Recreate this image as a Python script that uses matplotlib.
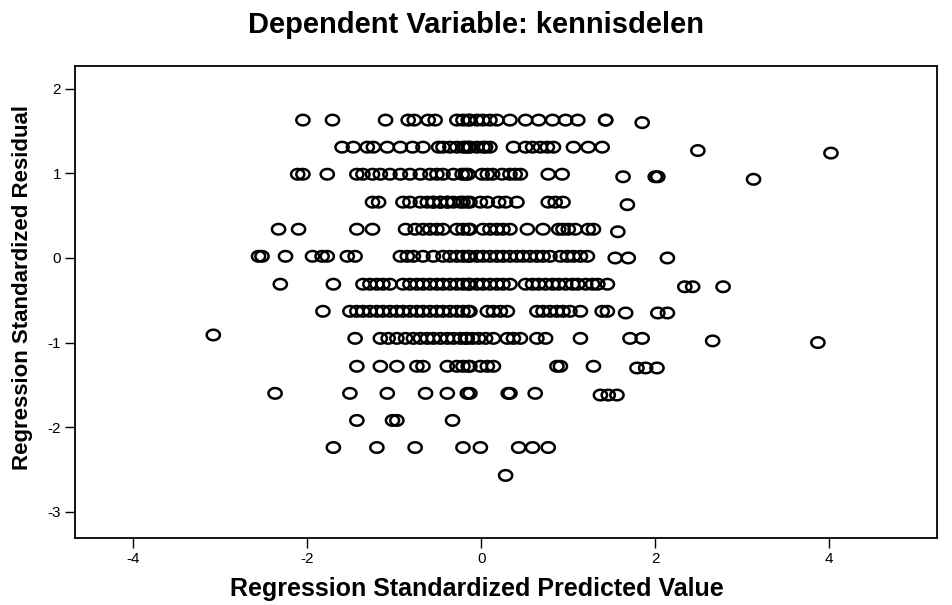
import numpy as np
import matplotlib.pyplot as plt
from matplotlib.path import Path

plt.rcParams['axes.unicode_minus'] = False

# standardized predicted values, grouped by residual "row"
row_163 = [-2.05, -1.71, -1.10, -0.84, -0.77, -0.61, -0.53, -0.28, -0.21, -0.15, -0.13, -0.05,
           0.02, 0.10, 0.18, 0.33, 0.51, 0.66, 0.82, 0.97, 1.11, 1.43, 1.43]
row_131 = [-1.60, -1.47, -1.31, -1.24, -1.08, -0.93, -0.79, -0.67, -0.49, -0.44, -0.36, -0.28,
           -0.21, -0.18, -0.15, -0.13, -0.05, 0.02, 0.05, 0.10, 0.37, 0.51, 0.59, 0.68, 0.76,
           0.83, 1.06, 1.23, 1.39]
row_099 = [-2.11, -2.05, -1.77, -1.43, -1.36, -1.25, -1.16, -1.05, -0.93, -0.82, -0.70, -0.59,
           -0.51, -0.44, -0.32, -0.22, -0.18, -0.15, 0.01, 0.07, 0.13, 0.24, 0.33, 0.39, 0.45,
           0.77, 0.93]
row_066 = [-1.25, -1.18, -0.90, -0.82, -0.70, -0.62, -0.55, -0.55, -0.47, -0.47, -0.39, -0.39,
           -0.32, -0.24, -0.21, -0.16, -0.13, -0.01, 0.07, 0.20, 0.28, 0.41, 0.77, 0.85, 0.94]
row_034 = [-2.33, -2.10, -1.43, -1.25, -0.87, -0.76, -0.67, -0.59, -0.51, -0.44, -0.28, -0.21,
           -0.15, -0.13, 0.02, 0.10, 0.18, 0.25, 0.33, 0.53, 0.71, 0.89, 0.94, 1.00, 1.08,
           1.23, 1.29]
row_002 = [-2.56, -2.52, -2.25, -1.94, -1.83, -1.77, -1.54, -1.45, -0.93, -0.85, -0.78, -0.67,
           -0.55, -0.44, -0.36, -0.28, -0.21, -0.15, -0.13, -0.05, 0.02, 0.10, 0.18, 0.25,
           0.33, 0.41, 0.48, 0.56, 0.64, 0.71, 0.79, 0.91, 0.99, 1.06, 1.14, 1.22]
row_m031 = [-2.31, -1.70, -1.36, -1.28, -1.20, -1.13, -1.05, -0.90, -0.82, -0.74, -0.67, -0.59,
            -0.51, -0.44, -0.36, -0.28, -0.21, -0.15, -0.13, -0.05, 0.02, 0.10, 0.18, 0.25,
            0.33, 0.51, 0.59, 0.66, 0.74, 0.82, 0.89, 0.97, 1.05, 1.11, 1.20, 1.28, 1.34, 1.45]
row_m063 = [-1.82, -1.51, -1.43, -1.36, -1.28, -1.20, -1.13, -1.05, -0.97, -0.90, -0.82, -0.74,
            -0.67, -0.59, -0.51, -0.44, -0.36, -0.28, -0.21, -0.15, -0.13, 0.07, 0.14, 0.22,
            0.30, 0.64, 0.71, 0.79, 0.87, 0.94, 1.02, 1.14, 1.39, 1.45]
row_m095 = [-1.45, -1.16, -1.07, -0.97, -0.87, -0.78, -0.70, -0.62, -0.55, -0.47, -0.39, -0.32,
            -0.24, -0.18, -0.16, -0.10, -0.03, 0.05, 0.14, 0.30, 0.37, 0.45, 0.64, 0.74, 1.14,
            1.71, 1.85]
row_m128 = [-1.43, -1.16, -0.97, -0.74, -0.67, -0.39, -0.28, -0.21, -0.15, -0.13, -0.01, 0.07,
            0.14, 0.87, 0.91, 1.29]
row_m160 = [-2.37, -1.51, -1.08, -0.64, -0.39, -0.16, -0.13, 0.31, 0.33, 0.62]
row_m192 = [-1.43, -1.02, -0.97, -0.33]
row_m224 = [-1.70, -1.20, -0.76, -0.21, -0.01, 0.43, 0.59, 0.77]
row_m257 = [0.28]

rows = [row_163, row_131, row_099, row_066, row_034, row_002, row_m031, row_m063,
        row_m095, row_m128, row_m160, row_m192, row_m224, row_m257]
row_resid = [1.63, 1.31, 0.99, 0.66, 0.34, 0.02, -0.31, -0.63, -0.95, -1.28, -1.60, -1.92,
             -2.24, -2.57]

# points that sit a bit off their row
extra_pred = [1.85, 2.49, 4.02, 1.63, 2.00, 2.03, 3.13, 1.68, 1.57, 1.54, 1.69, 2.14,
              2.34, 2.43, 2.78, 1.66, 2.03, 2.14, -3.08, 2.66, 3.87, 1.79, 1.89, 2.02,
              1.37, 1.46, 1.56]
extra_resid = [1.60, 1.27, 1.24, 0.96, 0.96, 0.96, 0.93, 0.63, 0.31, 0.00, 0.00, 0.00,
               -0.34, -0.34, -0.34, -0.65, -0.65, -0.65, -0.91, -0.98, -1.00, -1.30, -1.30, -1.30,
               -1.62, -1.62, -1.62]

pred = []
resid = []
for xs, r in zip(rows, row_resid):
    pred += xs
    resid += [r] * len(xs)
pred += extra_pred
resid += extra_resid

# slightly flattened circle like the SPSS marker
t = np.linspace(0, 2 * np.pi, 60)
ell = Path(np.column_stack([np.cos(t), 0.8 * np.sin(t)]), closed=True)

fig = plt.figure(figsize=(9.53, 6.05), dpi=100)
ax = fig.add_axes([0.0787, 0.1107, 0.9046, 0.7803])

ax.scatter(pred, resid, marker=ell, s=90, facecolors='none', edgecolors='black', linewidths=1.8)

ax.set_xlim(-4.67, 5.24)
ax.set_ylim(-3.31, 2.27)
ax.set_xticks([-4, -2, 0, 2, 4])
ax.set_yticks([-3, -2, -1, 0, 1, 2])
ax.tick_params(direction='out', length=7, width=1, labelsize=11, pad=3)
for s in ax.spines.values():
    s.set_linewidth(1.3)

font = 'Liberation Sans'
for lab in ax.get_xticklabels() + ax.get_yticklabels():
    lab.set_family(font)

fig.text(0.5, 0.958, 'Dependent Variable: kennisdelen', ha='center', va='center',
         fontsize=21, fontweight='bold', family=font)
fig.text(0.5, 0.026, 'Regression Standardized Predicted Value', ha='center', va='center',
         fontsize=18, fontweight='bold', family=font)
fig.text(0.024, 0.525, 'Regression Standardized Residual', ha='center', va='center',
         rotation=90, fontsize=16, fontweight='bold', family=font)

plt.savefig('out.png', dpi=100)
